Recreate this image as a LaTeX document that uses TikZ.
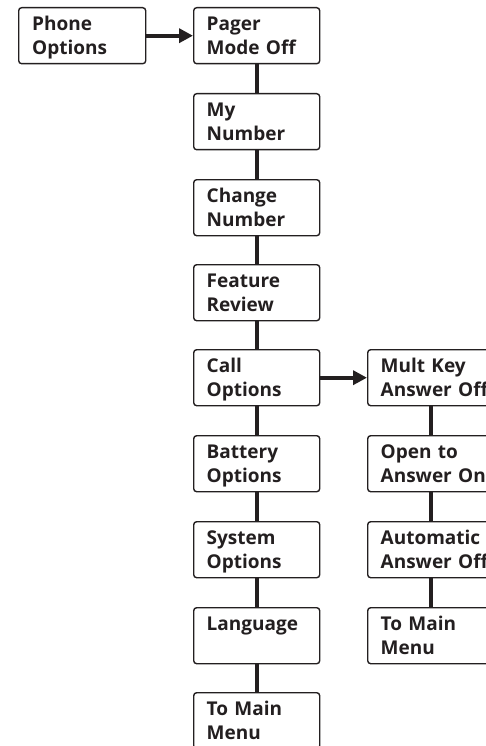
\documentclass[tikz,border=0pt]{standalone}
\usepackage{fontspec}
\setmainfont{Open Sans}
\usetikzlibrary{arrows.meta}
\definecolor{ink}{HTML}{231F20}
\tikzset{
  box/.style={draw=ink, line width=1.4pt, rounded corners=3pt, anchor=north west,
    minimum width=126pt, minimum height=56pt, text width=100pt, inner xsep=12pt,
    inner ysep=0pt, align=left, font=\bfseries\fontsize{19}{23.5}\selectfont, text=ink,
    text height=13.5pt, text depth=23.5pt},
  link/.style={draw=ink, line width=3.8pt},
  arr/.style={link, -{Triangle[length=14pt,width=14pt]}}
}
\begin{document}
\begin{tikzpicture}[x=1pt,y=-1pt]
\clip (0,0) rectangle (486,746);
\node[box, minimum width=127pt] (po) at (18,7) {Phone\\Options};
\node[box] (c1) at (193,7) {Pager\\Mode~Off};
\node[box] (c2) at (193,93) {My\\Number};
\node[box] (c3) at (193,179) {Change\\Number};
\node[box] (c4) at (193,264) {Feature\\Review};
\node[box] (c5) at (193,349) {Call\\Options};
\node[box] (c6) at (193,435) {Battery\\Options};
\node[box] (c7) at (193,521) {System\\Options};
\node[box] (c8) at (193,607) {Language};
\node[box] (c9) at (193,692) {To~Main\\Menu};
\node[box] (d1) at (367,349) {Mult~Key\\Answer~Off};
\node[box] (d2) at (367,435) {Open~to\\Answer~On};
\node[box] (d3) at (367,521) {Automatic\\Answer~Off};
\node[box] (d4) at (367,607) {To~Main\\Menu};
\draw[arr] (po.east) -- (c1.west);
\draw[arr] (c5.east) -- (d1.west);
\foreach \a/\b in {c1/c2,c2/c3,c3/c4,c4/c5,c5/c6,c6/c7,c7/c8,c8/c9,d1/d2,d2/d3,d3/d4}
  \draw[link] (\a.south) -- (\b.north);
\end{tikzpicture}
\end{document}
